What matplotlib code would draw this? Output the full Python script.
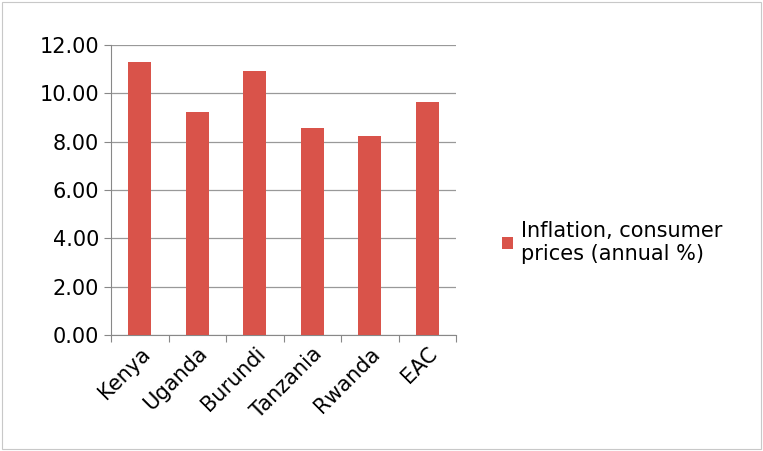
import matplotlib.pyplot as plt
from matplotlib.patches import Rectangle

countries = ["Kenya", "Uganda", "Burundi", "Tanzania", "Rwanda", "EAC"]
inflation = [11.31, 9.21, 10.94, 8.56, 8.24, 9.65]
series_name = "Inflation, consumer\nprices (annual %)"

fig = plt.figure(figsize=(7.63, 4.51), dpi=100)
ax = fig.add_axes([111 / 763, 1 - 335 / 451, 345 / 763, 290 / 451])
fig.patches.append(Rectangle((0.002, 0.004), 0.996, 0.992, transform=fig.transFigure,
                             fill=False, edgecolor="#c8c8c8", linewidth=0.8))

x = range(len(countries))
bars = ax.bar(x, inflation, width=0.4, color="#d9534a", zorder=3)

ax.set_xlim(-0.5, len(countries) - 0.5)
ax.set_ylim(0, 12)
ax.set_yticks([0, 2, 4, 6, 8, 10, 12])
ax.set_yticklabels(["%.2f" % v for v in [0, 2, 4, 6, 8, 10, 12]], fontsize=15)
ax.set_xticks([i - 0.5 for i in range(len(countries) + 1)], minor=False)
ax.set_xticklabels([])
ax.set_xticks(list(x), minor=True)
ax.set_xticklabels(countries, minor=True, rotation=45, ha="right", rotation_mode="anchor", fontsize=15)
ax.tick_params(axis="x", which="minor", length=0, pad=6)
ax.tick_params(axis="x", which="major", length=5, color="#888888", direction="out")
ax.tick_params(axis="y", length=5, color="#888888", direction="out")
ax.yaxis.grid(True, color="#999999", linewidth=0.9, zorder=0)
for s in ["top", "right"]:
    ax.spines[s].set_visible(False)
for s in ["left", "bottom"]:
    ax.spines[s].set_color("#888888")

ax.legend([bars], [series_name], loc="center left", bbox_to_anchor=(1.08, 0.32),
          frameon=False, fontsize=15, handlelength=0.5, handleheight=0.5,
          handletextpad=0.4, alignment="left")

fig.savefig("out.png", dpi=100)
